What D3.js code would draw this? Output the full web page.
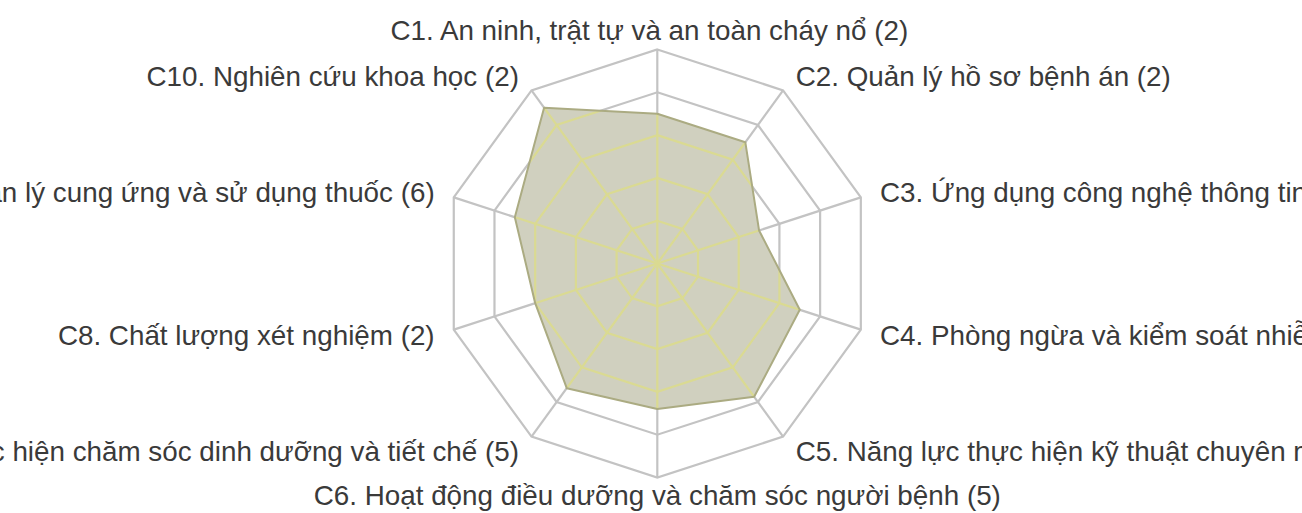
<!DOCTYPE html>
<html>
<head>
<meta charset="utf-8">
<script src="https://cdn.jsdelivr.net/npm/d3@7"></script>
<style>
  html, body { margin: 0; padding: 0; background: #fff; overflow: hidden; }
  .label { font-family: "Liberation Sans", Arial, sans-serif; font-size: 27.8px; fill: #3a3a3a; }
</style>
</head>
<body>
<div class="chart-container"></div>
<script>
// categories and values
const categories = [
  "C1. An ninh, trật tự và an toàn cháy nổ (2)",
  "C2. Quản lý hồ sơ bệnh án (2)",
  "C3. Ứng dụng công nghệ thông tin (2)",
  "C4. Phòng ngừa và kiểm soát nhiễm khuẩn (6)",
  "C5. Năng lực thực hiện kỹ thuật chuyên môn (5)",
  "C6. Hoạt động điều dưỡng và chăm sóc người bệnh (5)",
  "C7. Năng lực thực hiện chăm sóc dinh dưỡng và tiết chế (5)",
  "C8. Chất lượng xét nghiệm (2)",
  "C9. Quản lý cung ứng và sử dụng thuốc (6)",
  "C10. Nghiên cứu khoa học (2)",
];
const values = [3.5, 3.5, 2.5, 3.5, 3.85, 3.4, 3.6, 3.0, 3.5, 4.5];
const ticks = [1, 2, 3, 4, 5];

chart();

function chart() {
  // define canvas
  const w = 1302;
  const h = 513;
  const cx = 657.3;
  const cy = 263.5;
  const R = 214;

  const svg = d3
    .select(".chart-container")
    .append("svg")
    .attr("width", w)
    .attr("height", h);

  const n = categories.length;
  const angle = d3
    .scaleLinear()
    .domain([0, n])
    .range([0, 2 * Math.PI]);
  const r = d3.scaleLinear().domain([0, 5]).range([0, R]);

  const pt = (i, v) => [
    cx + r(v) * Math.sin(angle(i)),
    cy - r(v) * Math.cos(angle(i)),
  ];

  const ring = (v) => d3.range(n).map((i) => pt(i, v));
  const closed = d3.line().curve(d3.curveLinearClosed);

  // draw grid (rings + spokes) into a group so it can be drawn twice
  function grid(g, color) {
    g.selectAll("path.ring")
      .data(ticks)
      .enter()
      .append("path")
      .attr("class", "ring")
      .attr("d", (t) => closed(ring(t)))
      .attr("fill", "none")
      .attr("stroke", color)
      .attr("stroke-width", 2.2);

    g.selectAll("line.spoke")
      .data(d3.range(n))
      .enter()
      .append("line")
      .attr("class", "spoke")
      .attr("x1", cx)
      .attr("y1", cy)
      .attr("x2", (i) => pt(i, 5)[0])
      .attr("y2", (i) => pt(i, 5)[1])
      .attr("stroke", color)
      .attr("stroke-width", 2.2);
  }

  grid(svg.append("g"), "#c3c3c3");

  const dataPts = values.map((v, i) => pt(i, v));

  svg
    .append("clipPath")
    .attr("id", "area-clip")
    .append("path")
    .attr("d", closed(dataPts));

  // filled series area
  svg
    .append("path")
    .attr("d", closed(dataPts))
    .attr("fill", "#d0d0bf");

  // grid lines seen through the area look yellowish
  grid(svg.append("g").attr("clip-path", "url(#area-clip)"), "#dada92");

  svg
    .append("path")
    .attr("d", closed(dataPts))
    .attr("fill", "none")
    .attr("stroke", "#abab82")
    .attr("stroke-width", 2)
    .attr("stroke-linejoin", "round");

  // axis labels
  svg
    .selectAll("text.label")
    .data(categories)
    .enter()
    .append("text")
    .attr("class", "label")
    .attr("x", (d, i) => {
      const p = pt(i, 5 * (R + 18) / R);
      if (i === 0) return cx - 8;
      if (i === n / 2) return cx;
      return i < n / 2 ? p[0] + 2 : p[0] - 2;
    })
    .attr("y", (d, i) => {
      if (i === 0) return cy - R - 10;
      if (i === n / 2) return cy + R + 27;
      return pt(i, 5 * (R + 18) / R)[1] + 10;
    })
    .attr("text-anchor", (d, i) =>
      i === 0 || i === n / 2 ? "middle" : i < n / 2 ? "start" : "end"
    )
    .text((d) => d);
}
</script>
</body>
</html>
